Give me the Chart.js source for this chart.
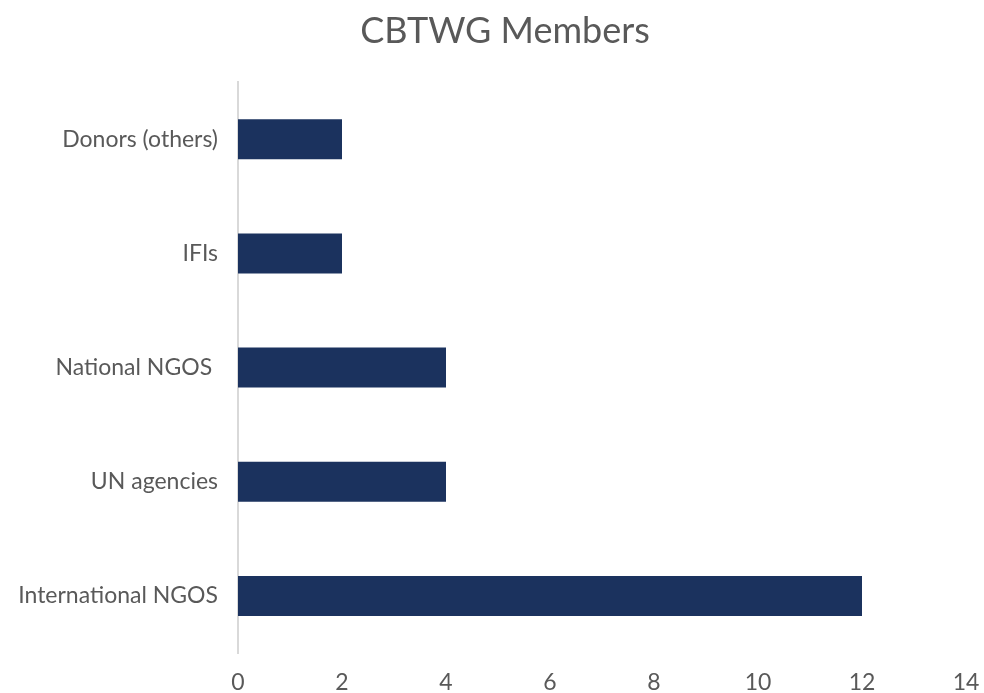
<!DOCTYPE html>
<html>
<head>
<meta charset="utf-8">
<script src="https://cdn.jsdelivr.net/npm/chart.js@4/dist/chart.umd.min.js"></script>
<style>
  html, body { margin: 0; padding: 0; background: #fff; }
  #wrap { width: 984px; height: 693px; }
</style>
</head>
<body>
<div id="wrap"><canvas id="chart"></canvas></div>
<script>
// data
const categories = ['Donors (others)', 'IFIs', 'National NGOS ', 'UN agencies', 'International NGOS'];
const members = [2, 2, 4, 4, 12];
const xTicks = { min: 0, max: 14, step: 2 };

const TEXT = '#595959';
const FONT = "Lato, 'Open Sans', sans-serif";

// the title sits a little right of the canvas centre in the original
const titleShift = {
  id: 'titleShift',
  afterLayout(c) { c.titleBlock.left = 32; c.titleBlock.right = 978; }
};

new Chart(document.getElementById('chart'), {
  type: 'bar',
  data: {
    labels: categories,
    datasets: [{
      data: members,
      backgroundColor: '#1b325e',
      borderWidth: 0,
      categoryPercentage: 1,
      barPercentage: 0.35
    }]
  },
  plugins: [titleShift],
  options: {
    indexAxis: 'y',
    responsive: true,
    maintainAspectRatio: false,
    animation: false,
    layout: { padding: { left: 4, right: 18, top: 0, bottom: 0 } },
    plugins: {
      legend: { display: false },
      tooltip: { enabled: false },
      title: {
        display: true,
        text: 'CBTWG Members',
        color: TEXT,
        font: { family: FONT, size: 36, weight: 'normal' },
        padding: { top: 10, bottom: 29 }
      }
    },
    scales: {
      x: {
        min: xTicks.min,
        max: xTicks.max,
        grid: { display: false, drawTicks: false },
        border: { display: false },
        ticks: { stepSize: xTicks.step, color: TEXT, padding: 16, font: { family: FONT, size: 23 } },
        afterFit: s => { s.height = 40; s.paddingRight = 0; s.paddingLeft = 0; }
      },
      y: {
        grid: { display: false, drawTicks: false },
        border: { display: true, color: '#d9d9d9', width: 2 },
        ticks: { color: TEXT, padding: 20, font: { family: FONT, size: 23 } },
        afterFit: s => { s.width = 234; }
      }
    }
  }
});
</script>
</body>
</html>
